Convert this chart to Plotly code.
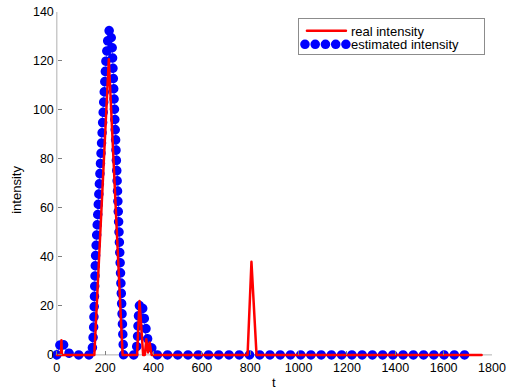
import plotly.graph_objects as go

# ---- data ----
real_t = [0, 17, 19, 21, 155, 215, 272, 332, 342, 357, 364, 370, 377, 384, 392, 789, 805, 826, 1757]
real_y = [0, 0, 6, 0, 0, 120.7, 0, 0, 22, 0, 0, 6.4, 1, 5, 0, 0, 38, 0, 0]

est_t = [0, 19, 40, 60, 145, 152, 160, 170, 180, 192, 203, 213, 218, 228, 240, 253, 263, 271, 276,
         325, 333, 337, 343, 355, 362, 368, 378, 392, 405, 1720]
est_y = [0, 6, 1.5, 0, 0, 10, 40, 62, 80, 103, 120, 131, 133, 128, 100, 69, 29, 5, 0,
         0, 5, 15, 21.5, 19, 13, 7, 5, 3, 0, 0]

x_ticks = [0, 200, 400, 600, 800, 1000, 1200, 1400, 1600, 1800]
y_ticks = [0, 20, 40, 60, 80, 100, 120, 140]
x_lim = [0, 1800]
y_lim = [0, 140]
x_pad = 20
y_pad = 2.5

FONT = "Liberation Sans, Arial, sans-serif"
AXIS_COL = "#b0b0b0"
TICK_COL = "#808080"

fig = go.Figure()
fig.add_trace(go.Scatter(x=est_t, y=est_y, mode="lines", showlegend=False,
                         line=dict(color="rgba(0,0,255,0.55)", width=1), hoverinfo="skip"))
fig.add_trace(go.Scatter(x=est_t, y=est_y, mode="lines", name="estimated intensity",
                         line=dict(color="#0000ff", width=9.5, dash="0.1px,10.14px")))
fig.add_trace(go.Scatter(x=real_t, y=real_y, mode="lines", name="real intensity",
                         line=dict(color="#ff0000", width=2.5)))

xr = [x_lim[0] - x_pad, x_lim[1]]
yr = [y_lim[0] - y_pad, y_lim[1]]

W, H = 507, 389
ml, mr, mt = 52.17, 15, 12
mb = 27.875
plot_w = W - ml - mr
plot_h = H - mt - mb

# legend box (pixels)
LEG_L, LEG_T, LEG_W, LEG_H = 298, 18, 187, 37

fig.update_layout(
    width=W, height=H,
    margin=dict(l=ml, r=mr, t=mt, b=mb, pad=0, autoexpand=False),
    paper_bgcolor="white", plot_bgcolor="white",
    font=dict(family=FONT, size=12.5, color="black"),
    showlegend=True,
    legend=dict(x=(LEG_L - ml) / plot_w, xanchor="left",
                y=(H - mb - LEG_T) / plot_h, yanchor="top",
                bgcolor="white", bordercolor="#8c8c8c", borderwidth=1,
                font=dict(family=FONT, size=13, color="black"),
                traceorder="reversed", tracegroupgap=0),
    xaxis=dict(range=xr, anchor="free", position=y_pad / (yr[1] - yr[0]),
               tickvals=x_ticks, ticktext=[str(v) for v in x_ticks],
               ticks="inside", ticklen=4, tickcolor=TICK_COL, tickwidth=1,
               ticklabelstandoff=4, automargin=False,
               showline=False, showgrid=False, zeroline=False,
               tickfont=dict(family=FONT, size=12.5, color="black")),
    yaxis=dict(range=yr, anchor="free", position=x_pad / (xr[1] - xr[0]),
               tickvals=y_ticks, ticktext=[str(v) for v in y_ticks],
               ticks="inside", ticklen=4, tickcolor=TICK_COL, tickwidth=1,
               ticklabelstandoff=3, automargin=False,
               showline=False, showgrid=False, zeroline=False,
               tickfont=dict(family=FONT, size=12.5, color="black")),
    shapes=[
        dict(type="line", xref="x", yref="y", x0=x_lim[0], x1=x_lim[1], y0=y_lim[0], y1=y_lim[0],
             line=dict(color=AXIS_COL, width=1), layer="below"),
        dict(type="line", xref="x", yref="y", x0=x_lim[0], x1=x_lim[0], y0=y_lim[0], y1=y_lim[1],
             line=dict(color=AXIS_COL, width=1), layer="below"),
    ],
    annotations=[
        dict(text="t", xref="x", x=(x_lim[0] + x_lim[1]) / 2, yref="paper", y=-0.062,
             xanchor="center", yanchor="middle", showarrow=False,
             font=dict(family=FONT, size=13, color="black")),
        dict(text="intensity", xref="paper", x=-0.08, yref="paper", y=0.49,
             xanchor="center", yanchor="middle", textangle=-90, showarrow=False,
             font=dict(family=FONT, size=13, color="black")),
    ],
)

post = """
var gd = document.getElementById('{plot_id}');
gd.querySelectorAll('path.js-line').forEach(function(p){
  p.style.strokeLinecap = 'round';
  p.style.strokeLinejoin = 'round';
});
var leg = gd.querySelector('g.legend');
if (leg) {
  var LW = %(lw)s, LH = %(lh)s, DX = 13, ROW0 = 12.7, ROWGAP = 13.6;
  var bg = leg.querySelector('rect.bg');
  if (bg) { bg.setAttribute('width', LW - 1); bg.setAttribute('height', LH - 1); }
  var sb = leg.querySelector('g.scrollbox');
  if (sb) sb.removeAttribute('clip-path');
  leg.querySelectorAll('g.traces').forEach(function(it, i){
    it.setAttribute('transform', 'translate(' + DX + ',' + (ROW0 + ROWGAP * i) + ')');
    var ln = it.querySelector('path.js-line');
    if (ln) ln.setAttribute('d', i == 0 ? 'M-4,0h39' : 'M-6,0h41');
  });
}
""" % {"lw": LEG_W, "lh": LEG_H}
fig.write_html("out.html", post_script=post)
